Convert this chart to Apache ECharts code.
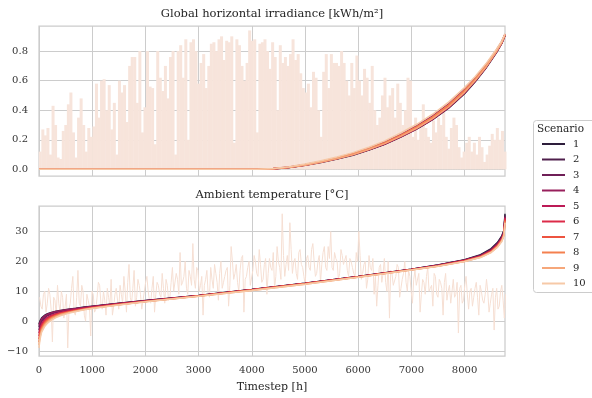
<!DOCTYPE html>
<html>
<head>
<meta charset="utf-8">
<script src="https://cdn.jsdelivr.net/npm/echarts@6/dist/echarts.min.js"></script>
<style>
html,body{margin:0;padding:0;background:#fff;}
#chart{width:592px;height:398px;}
</style>
</head>
<body>
<div id="chart"></div>
<script>
// raw series in 2-day steps (centre hour = 48*k+24)
var ghiPeaks = [
 0.12,0.27,0.23,0.28,0.10,0.43,0.30,0.08,0.07,0.26,0.30,0.44,0.52,0.25,0.08,
 0.35,0.48,0.30,0.12,0.28,0.22,0.29,0.58,0.35,0.60,0.61,0.40,0.57,0.27,0.45,
 0.10,0.60,0.52,0.57,0.32,0.70,0.76,0.76,0.45,0.80,0.25,0.42,0.80,0.56,0.55,
 0.17,0.80,0.62,0.53,0.70,0.48,0.76,0.80,0.10,0.80,0.84,0.62,0.88,0.20,0.86,
 0.88,0.80,0.58,0.72,0.78,0.55,0.70,0.85,0.86,0.80,0.88,0.90,0.74,0.87,0.86,
 0.90,0.18,0.88,0.84,0.70,0.60,0.72,0.94,0.87,0.88,0.25,0.85,0.86,0.88,0.80,
 0.68,0.86,0.76,0.40,0.84,0.72,0.76,0.70,0.78,0.88,0.74,0.78,0.65,0.55,0.52,
 0.58,0.42,0.66,0.62,0.40,0.22,0.66,0.78,0.55,0.78,0.72,0.72,0.70,0.80,0.72,
 0.60,0.50,0.72,0.55,0.77,0.60,0.50,0.68,0.62,0.45,0.70,0.40,0.30,0.35,0.50,
 0.62,0.42,0.50,0.55,0.35,0.58,0.45,0.30,0.40,0.62,0.60,0.22,0.35,0.20,0.30,
 0.44,0.28,0.22,0.18,0.33,0.25,0.35,0.30,0.40,0.22,0.14,0.28,0.35,0.30,0.15,
 0.08,0.12,0.18,0.22,0.12,0.18,0.10,0.22,0.15,0.05,0.10,0.16,0.24,0.20,0.28,
 0.20,0.26,0.12
];
// temperature: two readings per 2-day step (hour 48*k+12 and 48*k+36)
var tempA = [
 8,4,10,6,9,-7,7,12,3,8,5,-9,6,15,2,17,5,10,0,7,-5,9,4,13,6,10,2,8,14,5,
 11,4,9,15,3,19,6,17,8,12,4,10,15,7,11,3,13,9,16,6,12,8,18,10,14,23,13,20,9,15,
 26,11,17,12,2,14,9,18,11,16,7,20,13,17,5,25,14,19,10,21,3,15,20,12,22,16,24,13,19,9,
 21,17,11,25,18,36,15,22,33,16,21,14,24,18,12,22,17,26,15,20,13,23,18,25,30,17,21,14,24,19,
 22,15,20,16,23,30,14,19,11,22,17,9,5,18,13,21,10,1,16,12,19,8,14,20,10,15,6,17,12,3,
 14,9,18,11,5,15,8,13,2,16,10,6,14,9,-4,12,7,15,4,11,8,13,2,10,6,14,3,9,-3,11,
 5,12,1
];
var tempB = [
 5,9,3,11,4,8,2,6,10,1,9,4,11,3,8,6,12,2,9,5,10,3,8,12,4,7,11,5,2,9,
 7,12,6,10,13,8,11,5,14,9,7,13,10,6,15,9,12,8,11,14,7,13,10,16,9,12,15,11,17,12,
 14,18,10,15,12,17,8,14,19,13,16,11,15,18,12,20,16,13,17,22,14,18,12,17,20,15,19,14,21,16,
 18,23,15,20,14,22,19,17,24,20,16,23,19,15,21,18,24,20,16,22,19,25,17,21,18,23,20,16,22,19,
 17,21,18,15,20,22,16,20,14,18,21,15,12,19,16,13,20,17,12,15,18,11,16,13,17,10,14,12,16,9,
 13,15,10,12,16,9,14,11,13,7,12,10,8,13,11,6,12,9,10,5,11,8,12,7,9,10,6,11,8,4,
 10,7,9
];

// sorted (duration) curves per scenario
var ghiHours = [0,4100,4400,4700,5000,5300,5600,5900,6200,6500,6800,7100,7400,7700,8000,8200,8400,8600,8700,8760];
var ghiS1  = [0,0,0.003,0.012,0.027,0.047,0.070,0.096,0.130,0.169,0.218,0.272,0.336,0.414,0.512,0.592,0.684,0.790,0.852,0.905];
var ghiS2  = [0,0,0.004,0.013,0.029,0.049,0.072,0.099,0.133,0.172,0.221,0.276,0.340,0.419,0.518,0.598,0.689,0.795,0.856,0.908];
var ghiS3  = [0,0,0.004,0.014,0.030,0.050,0.074,0.101,0.136,0.176,0.226,0.281,0.346,0.426,0.525,0.604,0.694,0.800,0.860,0.912];
var ghiS4  = [0,0,0.005,0.016,0.033,0.054,0.079,0.107,0.143,0.185,0.237,0.295,0.362,0.444,0.543,0.620,0.707,0.808,0.866,0.915];
var ghiS5  = [0,0,0.003,0.012,0.028,0.048,0.071,0.098,0.132,0.171,0.220,0.275,0.339,0.418,0.517,0.597,0.688,0.794,0.855,0.906];
var ghiS6  = [0,0,0.004,0.015,0.031,0.051,0.075,0.103,0.138,0.179,0.229,0.285,0.350,0.430,0.529,0.608,0.697,0.802,0.861,0.911];
var ghiS7  = [0,0,0.004,0.014,0.030,0.051,0.075,0.102,0.137,0.178,0.228,0.284,0.349,0.429,0.528,0.607,0.696,0.801,0.860,0.910];
var ghiS8  = [0,0,0.005,0.015,0.032,0.053,0.077,0.105,0.140,0.181,0.232,0.289,0.355,0.436,0.535,0.613,0.701,0.804,0.863,0.913];
var ghiS9  = [0,0,0.003,0.013,0.028,0.048,0.072,0.099,0.134,0.174,0.223,0.278,0.343,0.422,0.521,0.601,0.691,0.797,0.858,0.909];
var ghiS10 = [0,0,0.006,0.018,0.036,0.058,0.084,0.113,0.150,0.193,0.246,0.305,0.373,0.455,0.553,0.629,0.714,0.813,0.870,0.918];

var tempHours = [0,15,30,50,80,110,150,200,250,320,400,550,700,850,1000,1500,2000,3000,4000,5000,6000,7000,7500,8000,8300,8500,8620,8700,8740,8760];
var tempS1  = [-1,-0.1,0.5,1.1,1.6,2.0,2.4,2.7,3.0,3.3,3.6,4.0,4.3,4.7,5.0,6.0,6.9,8.6,10.6,12.7,15.0,17.4,18.8,20.6,22.3,24.3,26.4,28.6,30.5,36];
var tempS2  = [-2,-1.0,-0.3,0.5,1.1,1.6,2.0,2.4,2.8,3.1,3.4,3.8,4.2,4.6,4.9,5.9,6.8,8.6,10.6,12.7,15.0,17.4,18.8,20.5,22.1,24.1,26.2,28.3,30.2,35.5];
var tempS3  = [-3,-1.8,-1.0,-0.1,0.6,1.2,1.7,2.1,2.5,2.9,3.2,3.7,4.1,4.5,4.8,5.8,6.8,8.5,10.5,12.6,14.9,17.3,18.7,20.4,22.0,23.9,26.0,28.1,30.0,35];
var tempS4  = [-1.5,-0.6,0.0,0.8,1.3,1.8,2.2,2.6,2.9,3.2,3.5,3.9,4.2,4.6,4.9,5.9,6.8,8.5,10.5,12.6,14.9,17.3,18.7,20.4,21.9,23.8,25.8,27.9,29.8,35];
var tempS5  = [-4,-2.7,-1.8,-0.8,0.0,0.6,1.2,1.7,2.1,2.5,2.9,3.4,3.9,4.3,4.7,5.7,6.7,8.5,10.5,12.6,14.9,17.3,18.6,20.3,21.8,23.6,25.6,27.7,29.6,34.5];
var tempS6  = [-5,-3.5,-2.5,-1.4,-0.6,0.1,0.8,1.3,1.8,2.3,2.7,3.3,3.8,4.2,4.6,5.7,6.7,8.5,10.5,12.6,14.9,17.3,18.6,20.3,21.7,23.5,25.4,27.5,29.4,34.5];
var tempS7  = [-6,-4.3,-3.2,-2.0,-1.1,-0.3,0.4,1.0,1.5,2.0,2.5,3.1,3.6,4.1,4.5,5.6,6.6,8.4,10.4,12.5,14.8,17.2,18.5,20.2,21.6,23.4,25.3,27.3,29.2,34];
var tempS8  = [-7,-5.0,-3.8,-2.5,-1.6,-0.7,0.0,0.7,1.2,1.8,2.3,3.0,3.5,4.0,4.4,5.5,6.6,8.4,10.4,12.5,14.8,17.2,18.5,20.1,21.5,23.2,25.1,27.1,29.0,33.5];
var tempS9  = [-8,-5.8,-4.5,-3.1,-2.1,-1.2,-0.4,0.3,0.9,1.5,2.1,2.8,3.4,3.9,4.3,5.5,6.5,8.3,10.3,12.4,14.7,17.1,18.4,20.0,21.4,23.1,24.9,26.9,28.8,33];
var tempS10 = [-9,-6.6,-5.2,-3.7,-2.7,-1.7,-0.9,-0.1,0.5,1.2,1.8,2.6,3.2,3.8,4.2,5.4,6.5,8.3,10.3,12.4,14.7,17.1,18.4,20.0,21.3,23.0,24.8,26.7,28.6,33];

var scenarios = ['1','2','3','4','5','6','7','8','9','10'];
var colors = ['#2e1e3c','#4f1f4c','#6f1f57','#98205c','#bc1a56','#dc2b48','#ed5340','#f4804f','#f6a77a','#f6c9a7'];
var xTicks = [0,1000,2000,3000,4000,5000,6000,7000,8000];
var ghiTicks = [0,0.2,0.4,0.6,0.8];
var tempTicks = [-10,0,10,20,30];

var FONT = 'DejaVu Serif';
var ghiCurves = [ghiS1,ghiS2,ghiS3,ghiS4,ghiS5,ghiS6,ghiS7,ghiS8,ghiS9,ghiS10];
var tempCurves = [tempS1,tempS2,tempS3,tempS4,tempS5,tempS6,tempS7,tempS8,tempS9,tempS10];

function pairs(xs, ys){
	var out = [];
	for (var i = 0; i < ys.length; i++) out.push([xs[i], ys[i]]);
	return out;
}
function binned(ys){
	var out = [];
	for (var i = 0; i < ys.length; i++) out.push([48 * i + 24, ys[i]]);
	return out;
}
function twoPerBin(a, b){
	var out = [];
	for (var i = 0; i < a.length; i++){
		out.push([48 * i + 12, a[i]]);
		out.push([48 * i + 36, b[i]]);
	}
	return out;
}

var series = [];
series.push({
	type:'bar', xAxisIndex:0, yAxisIndex:0, data:binned(ghiPeaks),
	barWidth:3, itemStyle:{color:'#f7e4db'}, z:1, silent:true
});
series.push({
	type:'line', xAxisIndex:1, yAxisIndex:1, data:twoPerBin(tempA, tempB),
	showSymbol:false, lineStyle:{color:'#f6dfd3', width:1}, z:1, silent:true
});
for (var s = 0; s < scenarios.length; s++){
	series.push({
		name:scenarios[s], type:'line', xAxisIndex:0, yAxisIndex:0,
		data:pairs(ghiHours, ghiCurves[s]), showSymbol:false,
		lineStyle:{color:colors[s], width:1.5}, itemStyle:{color:colors[s]}, z:3
	});
	series.push({
		name:scenarios[s], type:'line', xAxisIndex:1, yAxisIndex:1,
		data:pairs(tempHours, tempCurves[s]), showSymbol:false,
		lineStyle:{color:colors[s], width:1.5}, itemStyle:{color:colors[s]}, z:3
	});
}

function xAxisCfg(idx, labels){
	return {
		type:'value', gridIndex:idx, min:0, max:8760,
		axisLine:{show:false}, axisTick:{show:false, customValues:xTicks},
		axisLabel:{show:labels, customValues:xTicks, formatter:function(v){ return String(v); },
			color:'#333', fontFamily:FONT, fontSize:10, margin:9},
		splitLine:{show:true, lineStyle:{color:'#cccccc', width:1}}
	};
}
function yAxisCfg(idx, mn, mx, ticks, fmt){
	return {
		type:'value', gridIndex:idx, min:mn, max:mx,
		axisLine:{show:false}, axisTick:{show:false, customValues:ticks},
		axisLabel:{customValues:ticks, formatter:fmt, color:'#333', fontFamily:FONT, fontSize:10, margin:11},
		splitLine:{show:true, lineStyle:{color:'#cccccc', width:1}}
	};
}

var xBottom = xAxisCfg(1, true);
xBottom.name = 'Timestep [h]';
xBottom.nameLocation = 'middle';
xBottom.nameGap = 26;
xBottom.nameTextStyle = {color:'#262626', fontFamily:FONT, fontSize:11};

var myChart = echarts.init(document.getElementById('chart'));
myChart.setOption({
	animation:false,
	backgroundColor:'#fff',
	grid:[
		{left:39, top:26, width:466, height:150, show:true, borderColor:'#cccccc', borderWidth:1.25},
		{left:39, top:206, width:466, height:150, show:true, borderColor:'#cccccc', borderWidth:1.25}
	],
	xAxis:[xAxisCfg(0, false), xBottom],
	yAxis:[
		yAxisCfg(0, -0.045, 0.97, ghiTicks, function(v){ return v.toFixed(1); }),
		yAxisCfg(1, -11.7, 38.6, tempTicks, function(v){ return v < 0 ? '\u2212' + Math.abs(v) : String(v); })
	],
	legend:{
		data:scenarios, orient:'vertical', left:537, top:132,
		icon:'rect', itemWidth:23, itemHeight:2, itemGap:1.5,
		textStyle:{color:'#262626', fontFamily:FONT, fontSize:10, lineHeight:14, padding:[0,0,0,3]},
		z:5
	},
	graphic:[
		{type:'rect', z:1, shape:{x:533.5, y:120.5, width:64, height:172, r:3},
			style:{fill:'#fff', stroke:'#cccccc', lineWidth:1}},
		{type:'text', z:6, x:537, y:129, style:{text:'Scenario', font:'10.5px "DejaVu Serif"', fill:'#262626', verticalAlign:'middle'}},
		{type:'text', z:6, x:272, y:14, style:{text:'Global horizontal irradiance [kWh/m\u00b2]', font:'11.5px "DejaVu Serif"', fill:'#262626', align:'center', verticalAlign:'middle'}},
		{type:'text', z:6, x:272, y:195, style:{text:'Ambient temperature [\u00b0C]', font:'11.5px "DejaVu Serif"', fill:'#262626', align:'center', verticalAlign:'middle'}}
	],
	series:series
});
window.onresize = myChart.resize;
</script>
</body>
</html>
